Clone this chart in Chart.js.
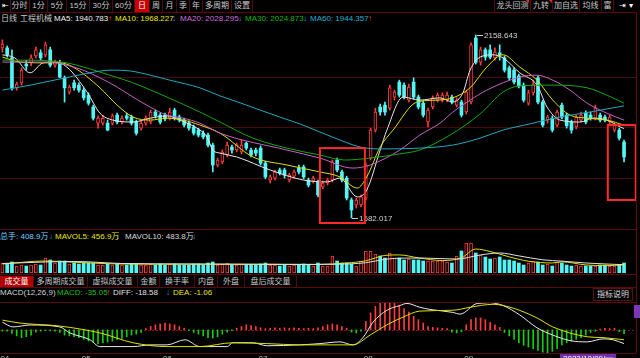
<!DOCTYPE html>
<html>
<head>
<meta charset="utf-8">
<script src="https://cdn.jsdelivr.net/npm/chart.js@4.4.0/dist/chart.umd.min.js"></script>
<style>
html,body{margin:0;padding:0;background:#000;}
body{width:640px;height:358px;position:relative;overflow:hidden;font-family:"Liberation Sans","Noto Sans CJK SC",sans-serif;font-size:8px;color:#c8c8c8;}
.t{position:absolute;white-space:nowrap;line-height:10px;}
.cell{position:absolute;top:0;height:12px;line-height:12px;text-align:center;border-right:1px solid #4a0c0c;white-space:nowrap;color:#c8c8c8;}
.tab{position:absolute;top:276px;height:11px;line-height:11px;text-align:center;border-right:1px solid #4a0c0c;white-space:nowrap;color:#c8c8c8;}
.hl{position:absolute;left:0;width:637px;height:1px;background:#5a0a0a;}
canvas{position:absolute;left:0;}
.up{color:#ff3030}.dn{color:#30a0ff}
</style>
</head>
<body>
<!-- toolbar -->
<div class="cell" style="left:0;width:10px;color:#fff">⇤</div>
<div class="cell" style="left:10px;width:19px">分时</div>
<div class="cell" style="left:30px;width:17px">1分</div>
<div class="cell" style="left:48px;width:18px">5分</div>
<div class="cell" style="left:67px;width:22px">15分</div>
<div class="cell" style="left:90px;width:22px">30分</div>
<div class="cell" style="left:113px;width:21px">60分</div>
<div class="cell" style="left:135px;width:14px;background:#c80000;color:#fff">日</div>
<div class="cell" style="left:150px;width:12px">周</div>
<div class="cell" style="left:163px;width:13px">月</div>
<div class="cell" style="left:177px;width:12px">季</div>
<div class="cell" style="left:190px;width:12px">年</div>
<div class="cell" style="left:203px;width:28px">多周期</div>
<div class="cell" style="left:232px;width:20px">设置</div>
<div class="cell" style="left:494px;width:35px;border-left:1px solid #4a0c0c">龙头回测</div>
<div class="cell" style="left:530px;width:22px">九转</div>
<div class="cell" style="left:553px;width:26px">加自选</div>
<div class="cell" style="left:580px;width:21px">均线</div>
<div class="cell" style="left:602px;width:11px">富</div>
<div class="cell" style="left:614px;width:24px;color:#fff;border-right:none">⇥ ▾</div>
<div class="t" style="left:526px;top:0;width:0;height:0;border-top:3px solid #ff2020;border-left:3px solid transparent"></div>
<div class="t" style="left:549px;top:0;width:0;height:0;border-top:3px solid #ff2020;border-left:3px solid transparent"></div>
<div class="hl" style="top:12px"></div>

<!-- MA header -->
<div class="t" style="left:1px;top:14px">日线</div>
<div class="t" style="left:20px;top:14px">工程机械</div>
<div class="t" style="left:54px;top:14px;color:#f0f0f0">MA5: 1940.783</div><div class="t up" style="left:108px;top:14px">↑</div>
<div class="t" style="left:115px;top:14px;color:#e8e800">MA10: 1968.227</div><div class="t dn" style="left:172px;top:14px">↓</div>
<div class="t" style="left:180px;top:14px;color:#d070d8">MA20: 2028.295</div><div class="t dn" style="left:238px;top:14px">↓</div>
<div class="t" style="left:245px;top:14px;color:#10b810">MA30: 2024.873</div><div class="t dn" style="left:303px;top:14px">↓</div>
<div class="t" style="left:310px;top:14px;color:#20b0d0">MA60: 1944.357</div><div class="t up" style="left:368px;top:14px">↑</div>

<canvas id="price" width="640" height="201" style="top:28px"></canvas>
<div class="hl" style="top:229px"></div>

<!-- volume header -->
<div class="t" style="left:0;top:232px;color:#70d0ff">总手: 408.9万</div><div class="t dn" style="left:49px;top:232px">↓</div>
<div class="t" style="left:55px;top:232px;color:#e8e800">MAVOL5: 456.9万</div><div class="t dn" style="left:116px;top:232px">↓</div>
<div class="t" style="left:125px;top:232px;color:#d8d8d8">MAVOL10: 483.8万</div><div class="t dn" style="left:192px;top:232px">↓</div>

<canvas id="vol" width="640" height="31" style="top:242px"></canvas>
<div class="hl" style="top:274px"></div>

<!-- volume tabs -->
<div class="tab" style="left:0;width:33px;background:#b00000;color:#fff">成交量</div>
<div class="tab" style="left:34px;width:53px">多周期成交量</div>
<div class="tab" style="left:88px;width:49px">虚拟成交量</div>
<div class="tab" style="left:138px;width:21px">金额</div>
<div class="tab" style="left:160px;width:34px">换手率</div>
<div class="tab" style="left:195px;width:22px">内盘</div>
<div class="tab" style="left:218px;width:26px">外盘</div>
<div class="tab" style="left:245px;width:51px">盘后成交量</div>
<div class="hl" style="top:287px"></div>

<!-- MACD header -->
<div class="t" style="left:0;top:288px;color:#d0d0d0">MACD(12,26,9)</div>
<div class="t" style="left:57px;top:288px;color:#10c010">MACD: -35.05</div><div class="t up" style="left:106px;top:288px">↑</div>
<div class="t" style="left:113px;top:288px;color:#e0e0e0">DIFF: -18.58</div><div class="t dn" style="left:166px;top:288px">↓</div>
<div class="t" style="left:173px;top:288px;color:#e8e800">DEA: -1.06</div><div class="t dn" style="left:203px;top:288px">↓</div>
<div class="t" style="left:593px;top:288px;width:38px;height:11px;line-height:11px;text-align:center;border:1px solid #5a1010;color:#d8d8d8">指标说明</div>
<div class="hl" style="top:302px"></div>

<canvas id="macd" width="640" height="55" style="top:303px"></canvas>
<div class="hl" style="top:353px"></div>
<div style="position:absolute;left:636px;top:12px;width:1px;height:342px;background:#5a0a0a"></div>
<div style="position:absolute;left:634px;top:305px;width:6px;height:13px;background:#7a3ab8"></div>

<script>
// ---------------- DATA ----------------
const openP = [2125,2125,2099,2021,2034,2083,2086,2104,2112,2107,
 2120,2080,2086,2047,2010,2034,2028,2015,2002,1971,
 1929,1929,1929,1929,1950,1932,1948,1945,1932,1916,
 1929,1932,1958,1950,1950,1942,1963,1945,1937,1929,
 1919,1911,1903,1898,1872,1820,1828,1846,1867,1859,
 1854,1877,1859,1859,1864,1825,1781,1786,1807,1807,
 1781,1791,1812,1815,1781,1778,1776,1763,1773,1781,
 1833,1802,1786,1729,1716,1716,1734,1838,1911,1971,
 1976,1968,1997,2036,2028,1989,2036,1997,1981,1932,
 1971,1989,1989,1989,1997,1976,1984,1958,1984,2151,
 2088,2120,2120,2099,2112,2099,2073,2067,2052,2028,
 1981,2008,2047,1984,1937,1942,1924,1976,1950,1932,
 1919,1937,1955,1950,1942,1950,1945,1932,1911,1911,
 1880];
const closeP = [2135,2107,2021,2031,2067,2078,2099,2120,2099,2133,
 2080,2088,2049,2021,2023,2021,2015,1995,1981,1942,
 1942,1942,1911,1948,1932,1942,1942,1929,1903,1929,
 1942,1958,1948,1932,1940,1958,1942,1937,1924,1916,
 1903,1898,1893,1872,1820,1833,1854,1872,1859,1872,
 1872,1864,1846,1851,1825,1789,1789,1802,1799,1794,
 1794,1802,1802,1789,1768,1786,1742,1773,1781,1828,
 1807,1781,1734,1703,1729,1737,1820,1911,1958,1958,
 1958,2021,2010,2002,1997,2023,1997,1971,1950,1963,
 1995,2002,2002,2002,1984,1989,1950,2010,2133,2088,
 2120,2101,2101,2114,2107,2067,2047,2036,2026,1989,
 2008,2031,1984,1924,1945,1911,1958,1945,1922,1911,
 1945,1950,1932,1942,1968,1937,1937,1945,1924,1890,
 1841];
const highP = [2146,2130,2120,2036,2073,2093,2107,2127,2120,2140,
 2127,2093,2093,2052,2028,2041,2034,2021,2008,1976,
 1948,1950,1937,1953,1955,1948,1955,1950,1937,1935,
 1948,1963,1963,1955,1955,1968,1968,1950,1942,1935,
 1924,1916,1909,1903,1877,1838,1859,1880,1872,1877,
 1885,1880,1864,1864,1870,1830,1794,1807,1812,1812,
 1799,1807,1820,1820,1786,1791,1781,1778,1786,1833,
 1838,1807,1791,1734,1734,1742,1825,1916,1968,1979,
 1984,2028,2015,2041,2034,2031,2047,2002,1987,1968,
 2000,2008,2008,2010,2002,1995,1989,2015,2138,2158.643,
 2127,2125,2133,2125,2133,2104,2078,2073,2057,2034,
 2015,2041,2052,1989,1950,1948,1963,1981,1955,1937,
 1950,1958,1961,1958,1976,1955,1950,1950,1929,1916,
 1885];
const lowP = [2114,2101,2015,2015,2028,2067,2078,2099,2093,2101,
 2075,2075,2047,1984,2005,2015,2010,1989,1976,1937,
 1916,1924,1909,1924,1927,1927,1937,1924,1898,1911,
 1924,1927,1942,1927,1935,1937,1937,1932,1919,1911,
 1898,1893,1888,1867,1802,1815,1823,1841,1851,1854,
 1849,1859,1841,1844,1820,1784,1773,1781,1794,1786,
 1776,1786,1797,1784,1763,1773,1737,1758,1768,1776,
 1802,1776,1729,1682.017,1708,1711,1729,1833,1906,1950,
 1950,1963,1989,1997,1992,1984,1992,1966,1945,1919,
 1966,1984,1984,1984,1979,1971,1945,1953,1979,2083,
 2080,2093,2096,2093,2093,2062,2041,2031,2021,1984,
 1976,2002,1979,1919,1929,1906,1919,1940,1916,1903,
 1914,1932,1927,1937,1937,1932,1932,1927,1906,1885,
 1828];
// moving averages: [day index, value]
const ma5 = [[0,2107],[2.6,2099],[5.8,2060],[8.5,2086],[11,2088],[13.5,2075],[17.7,2010],[20.4,1955],[23.1,1937],[27.3,1932],[30.9,1942],[34.4,1948],[37.1,1937],[41.3,1911],[42.8,1893],[44,1859],[45.5,1851],[49,1841],[56,1807],[62.9,1781],[67.9,1776],[70.6,1786],[74.2,1737],[76.2,1755],[79,1859],[80.4,1911],[83.8,1997],[87.3,1989],[91.5,1995],[94.2,1984],[96.3,2008],[97.8,2067],[99.9,2101],[102.6,2107],[104.7,2099],[108.2,2060],[111.8,2028],[113.9,1971],[116.6,1937],[120.8,1932],[123.5,1942],[126.4,1937],[129.2,1919],[130,1915]];
const ma10 = [[0,2101],[3.7,2088],[10,2086],[12,2086],[14.8,2075],[20.4,2021],[24,1976],[27.3,1945],[30.9,1937],[34.4,1942],[37.8,1937],[41.3,1924],[45.5,1903],[52.4,1841],[59.5,1820],[66.4,1802],[70.6,1789],[74.2,1760],[76.2,1789],[79,1867],[81.7,1911],[86.7,1984],[90.9,1989],[94.2,1995],[97.8,2021],[101.3,2075],[104.7,2107],[108.2,2075],[111.8,2041],[115.1,1989],[118.7,1950],[122.3,1942],[126.4,1937],[130,1924]];
const ma20 = [[0,2088],[10,2088],[13.5,2080],[16.9,2067],[20.4,2047],[24,2023],[27.3,1997],[30.9,1971],[34.4,1950],[37.8,1942],[41.3,1929],[45.5,1903],[59.5,1859],[66.4,1838],[73.3,1812],[76.9,1820],[83.1,1859],[87.3,1898],[91.5,1929],[94.2,1958],[97.8,1989],[101.3,2015],[108.2,2049],[111.8,2054],[115.1,2041],[118.7,2015],[122.3,1981],[126.4,1955],[130,1937]];
const ma30 = [[0,2093],[6,2093],[10,2091],[13.5,2086],[17,2075],[20.4,2062],[27.3,2034],[34.4,1997],[41.3,1958],[45.5,1932],[52.4,1890],[59.5,1864],[66.4,1846],[71.6,1833],[76.9,1838],[83.1,1849],[87.3,1859],[93.6,1898],[99.9,1953],[104.7,2010],[108.2,2026],[115.1,2028],[122.3,2021],[126.4,2002],[130,1981]];
const ma60 = [[0,2015],[5.8,2028],[12,2044],[18.3,2060],[22.5,2067],[26.7,2065],[30.9,2054],[35,2041],[41.3,2021],[45.5,2000],[49.7,1982],[53.9,1963],[58,1945],[62.2,1927],[66.4,1906],[70.6,1885],[74.8,1867],[79,1862],[87.3,1864],[94.2,1872],[99.9,1890],[104.7,1911],[110.3,1927],[116.6,1945],[122.9,1958],[130,1974]];
// volume (万手)
const volume = [409,368,450,286,327,286,327,368,327,614,
 532,409,491,491,368,409,368,409,409,409,
 327,327,368,327,368,327,327,368,368,327,
 327,368,327,368,327,368,368,327,327,327,
 368,368,327,409,450,327,368,409,327,327,
 368,327,327,327,368,409,327,327,286,327,
 286,327,327,368,327,286,409,286,286,695,
 491,409,409,368,286,491,900,900,777,695,
 614,818,614,614,532,573,532,532,491,491,
 491,491,491,450,409,695,900,1227,1227,818,
 736,654,573,614,654,532,532,491,409,327,
 409,491,450,327,368,286,450,409,327,286,
 327,286,286,286,286,327,327,286,286,327,
 409];
const mavol5 = [[0,368],[9,491],[14,450],[25,368],[40,360],[55,360],[66,350],[72,410],[76,500],[80,720],[83,740],[87,620],[92,510],[96,620],[99,980],[102,880],[106,660],[110,480],[115,410],[117,457],[122,330],[126,300],[130,330]];
const mavol10 = [[0,390],[9,450],[15,470],[25,390],[40,368],[60,350],[70,360],[76,420],[80,560],[84,610],[88,610],[95,570],[100,740],[104,820],[108,700],[113,540],[117,484],[122,410],[126,370],[130,340]];
// MACD
const macdHist = [-3,-3,-8,-14,-18,-16,-12,-5,-3,-2,
 -2,-3,-6,-12,-14,-16,-18,-22,-26,-30,
 -32,-30,-28,-26,-22,-20,-16,-12,-10,-6,
 3,8,12,14,16,14,12,8,4,-2,
 -6,-10,-14,-18,-19,-16,-10,-5,-2,4,
 8,12,10,8,5,3,4,5,4,5,
 4,5,4,3,4,3,5,8,12,14,
 12,8,4,-5,-7,-3,20,40,55,65,
 70,70,65,58,50,42,32,24,16,8,
 6,5,4,3,-5,-7,-4,12,24,28,
 28,24,18,12,6,-6,-14,-22,-30,-36,
 -40,-44,-48,-52,-54,-50,-44,-35,-30,-26,
 -22,-18,-12,-6,-3,2,4,3,4,-4,
 -9];
const diff = [[0,18],[2.2,7],[5.8,11.5],[12,7],[14.1,-7],[18.3,-23],[20.4,-39],[27.3,-39],[30.9,-35],[34.4,-35],[38.2,-23],[41.3,-39],[47,-39],[48.2,-30],[52.4,-30],[55.3,-37],[62.2,-35],[66.4,-32],[70.6,-28],[73.3,-35],[75.4,-18],[77.5,18],[80.4,46],[83.1,57],[84.6,62],[87.3,53],[89.4,48],[94.2,41],[95.7,37],[99.3,62],[102,64],[104.7,57],[108.2,35],[111.8,5],[115.1,-12],[118.7,-25],[122.3,-28],[125.6,-21],[127.7,-23],[130,-32]];
const dea = [[0,23],[3.7,16],[12,9],[20.4,-7],[27.3,-30],[34.4,-39],[41.3,-39],[48.2,-30],[55.3,-32],[62.2,-35],[69.1,-35],[73.3,-35],[76.9,-12],[80.4,12],[83.8,30],[87.3,44],[94.2,46],[97.8,53],[102.6,60],[106.8,51],[111.8,28],[115.1,7],[122.3,-16],[125.6,-18],[130,-23]];
// month tick labels: [first day index, label]
const monthTicks = [[0,'04'],[17,'05'],[34,'06'],[54,'07'],[76,'08'],[97,'09']];
const cursorDay = 117, cursorLabel = '2023/10/09/一';

// ---------------- CHARTS ----------------
const SLOTS = 133;
const days = openP.map((_, i) => i);
const isUp = days.map(i => closeP[i] >= openP[i]);
const RED = '#ff3b3b', CYAN = '#52f6f6', GRN = '#10d010';
const xScale = {type:'linear', min:-0.5, max:SLOTS-0.5, display:false, offset:false, grid:{offset:false}};
const base = {responsive:false, animation:false, devicePixelRatio:1, events:[],
  plugins:{legend:{display:false}, tooltip:{enabled:false}}};
const pts = arr => arr.map(p => ({x:p[0], y:p[1]}));
const line = (arr, color) => ({type:'line', data:pts(arr), borderColor:color, borderWidth:1, pointRadius:0, cubicInterpolationMode:'monotone', order:1});

const hGrid = (vals, color, dash) => ({id:'hgrid', beforeDatasetsDraw(c){
  const {ctx, chartArea:a, scales:{y}} = c; ctx.save(); ctx.strokeStyle=color; ctx.lineWidth=1; if(dash) ctx.setLineDash(dash);
  vals.forEach(v => { const py = Math.round(y.getPixelForValue(v)) + 0.5; ctx.beginPath(); ctx.moveTo(a.left, py); ctx.lineTo(a.right, py); ctx.stroke(); });
  ctx.restore(); }});

const priceGrid = [2049.2, 1919.0, 1786.2];
const boxes = [[66.4, 75.8, 1864, 1669], [126.6, 132.45, 1924, 1729]];
const pricePlugin = {id:'priceDeco', afterDatasetsDraw(c){
  const {ctx, scales:{x, y}} = c; ctx.save();
  const hi = Math.max(...highP), lo = Math.min(...lowP);
  const hiI = highP.indexOf(hi), loI = lowP.indexOf(lo);
  ctx.font = '8px "Liberation Sans"'; ctx.fillStyle = '#d0d0d0'; ctx.strokeStyle = '#d0d0d0'; ctx.lineWidth = 1; ctx.textBaseline = 'middle';
  [[hiI, hi], [loI, lo]].forEach(([i, v]) => { const px = Math.round(x.getPixelForValue(i)), py = Math.round(y.getPixelForValue(v)) + 0.5;
    ctx.beginPath(); ctx.moveTo(px + 1, py); ctx.lineTo(px + 7, py); ctx.stroke(); ctx.fillText(v.toFixed(3), px + 8, py); });
  ctx.strokeStyle = '#ff2a2a'; ctx.lineWidth = 2;
  boxes.forEach(b => { const x0 = x.getPixelForValue(b[0]), x1 = x.getPixelForValue(b[1]), y0 = y.getPixelForValue(b[2]), y1 = y.getPixelForValue(b[3]); ctx.strokeRect(x0, y0, x1 - x0, y1 - y0); });
  ctx.restore(); }};

new Chart(document.getElementById('price'), {
  type:'bar',
  data:{datasets:[
    {data:days.map(i => ({x:i, y:[lowP[i], highP[i]]})), backgroundColor:days.map(i => isUp[i] ? RED : CYAN), barThickness:1, grouped:false, order:3},
    {data:days.map(i => ({x:i, y:[openP[i], closeP[i]]})), backgroundColor:days.map(i => isUp[i] ? '#000' : CYAN), borderColor:days.map(i => isUp[i] ? RED : CYAN), borderWidth:days.map(i => isUp[i] ? 1 : 0), borderSkipped:false, minBarLength:1, barThickness:3, grouped:false, order:2},
    line(ma60, '#1fa8c0'), line(ma30, '#10a810'), line(ma20, '#c860c8'), line(ma10, '#e0e000'), line(ma5, '#e8e8e8')
  ]},
  options:{...base, layout:{padding:{left:0, right:4, top:0, bottom:0}},
    scales:{x:xScale, y:{min:1653.4, max:2176.8, display:false}}},
  plugins:[hGrid(priceGrid, '#4a0808'), pricePlugin]
});

new Chart(document.getElementById('vol'), {
  type:'bar',
  data:{datasets:[
    {data:days.map(i => ({x:i, y:volume[i]})), backgroundColor:days.map(i => isUp[i] ? '#000' : CYAN), borderColor:days.map(i => isUp[i] ? RED : CYAN), borderWidth:days.map(i => isUp[i] ? 1 : 0), borderSkipped:false, barThickness:3, grouped:false, order:2},
    line(mavol10, '#e0e0e0'), line(mavol5, '#e0e000')
  ]},
  options:{...base, layout:{padding:{left:0, right:4, top:0, bottom:0}},
    scales:{x:xScale, y:{min:0, max:1268, display:false}}}
});

const macdPlugin = {id:'macdDeco', afterDraw(c){
  const {ctx, chartArea:a, scales:{x}} = c; ctx.save();
  ctx.font = '8px "Liberation Sans"'; ctx.textBaseline = 'top';
  const cx = Math.round(x.getPixelForValue(cursorDay)) - 2;
  ctx.fillStyle = '#7030a8'; ctx.fillRect(cx, a.bottom + 1, 56, 10);
  ctx.fillStyle = '#ffffff'; ctx.fillText(cursorLabel, cx + 3, a.bottom + 2);
  ctx.fillStyle = '#c0c0c0';
  monthTicks.forEach(([i, t]) => ctx.fillText(t, Math.max(0, x.getPixelForValue(i) - 2), a.bottom + 2));
  ctx.restore(); }};

new Chart(document.getElementById('macd'), {
  type:'bar',
  data:{datasets:[
    {data:days.map(i => ({x:i, y:macdHist[i]})), backgroundColor:days.map(i => macdHist[i] >= 0 ? RED : GRN), barThickness:1, grouped:false, order:2},
    line(dea, '#e0e000'), line(diff, '#e8e8e8')
  ]},
  options:{...base, layout:{padding:{left:0, right:4, top:0, bottom:5}},
    scales:{x:xScale, y:{min:-54, max:63, display:false}}},
  plugins:[hGrid([0], '#7a1010', [2, 2]), macdPlugin]
});
</script>
</body>
</html>
